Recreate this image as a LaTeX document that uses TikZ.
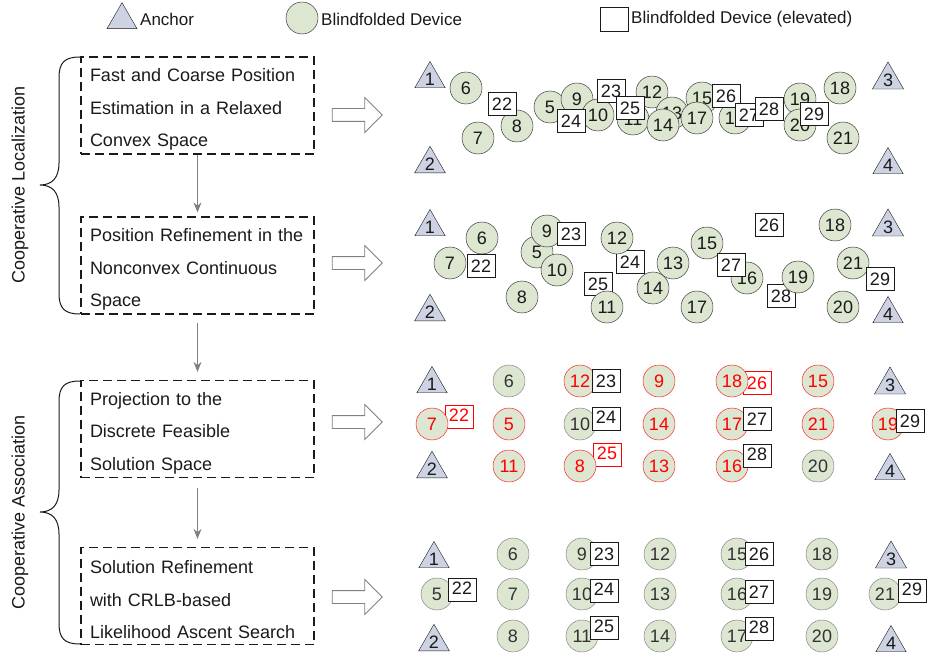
\documentclass[tikz,border=0pt]{standalone}
\usepackage{fontspec}
\setmainfont{Liberation Sans}
\usetikzlibrary{arrows.meta,shapes.geometric,shapes.arrows}
\tikzset{>=Stealth}
\definecolor{devgreen}{HTML}{DCE6D0}
\definecolor{anchorblue}{HTML}{CDD3E3}
\definecolor{inkgray}{HTML}{1A1A1A}
\tikzset{
  anchortri/.style={regular polygon,regular polygon sides=3,minimum size=34.6pt,inner sep=0pt,draw=inkgray,fill=anchorblue,text=inkgray,font=\fontsize{18}{18}\selectfont},
  device/.style={circle,minimum size=32pt,inner sep=0pt,draw=inkgray,fill=devgreen,text=inkgray,font=\fontsize{18}{18}\selectfont},
  elevated/.style={rectangle,minimum width=28pt,minimum height=23pt,inner sep=0pt,draw=inkgray,fill=white,text=inkgray,font=\fontsize{18}{18}\selectfont},
  wrong/.style={draw=red,text=red},
  kept/.style={draw=black!55,text=black!80},
  raised/.style={text height=13pt,text depth=4pt},
  legend/.style={anchor=west,inner sep=0pt,text=inkgray,font=\fontsize{17}{17}\selectfont},
  stage/.style={draw=inkgray,dash pattern=on 9pt off 5pt,line width=1.2pt,minimum width=233pt,minimum height=97pt,text width=215pt,text height=21pt,inner xsep=9pt,align=left,text=inkgray,font=\fontsize{18}{32.5}\selectfont},
  blockarrow/.style={single arrow,draw=black!50,line width=0.8pt,fill=white,minimum height=50pt,inner xsep=0pt,inner ysep=6pt,single arrow head extend=11pt},
  flow/.style={-{Stealth[length=10pt,width=8pt]},draw=black!50,line width=1.2pt}
}

\begin{document}
\begin{tikzpicture}[x=1pt,y=-1pt]
\useasboundingbox (0,0) rectangle (930,658);

% legend
\node[anchortri] (legAnchor) at (122,20) {};
\node[legend] (legAnchorText) at (140,19) {Anchor};
\node[device] (legDevice) at (302,18) {};
\node[legend] (legDeviceText) at (321,19) {Blindfolded Device};
\node[elevated,minimum height=24pt] (legElevated) at (614,19) {};
\node[legend] (legElevatedText) at (631,19) {Blindfolded Device (elevated)};

% stages
\node[stage] (coarse) at (197.5,105.5) {Fast and Coarse Position\\Estimation in a Relaxed\\Convex Space};
\node[stage] (refine) at (197.5,265.5) {Position Refinement in the\\Nonconvex Continuous\\Space};
\node[stage] (project) at (197.5,429) {Projection to the\\Discrete Feasible\\Solution Space};
\node[stage] (search) at (197.5,596) {Solution Refinement\\with CRLB-based\\Likelihood Ascent Search};
\draw[flow,shorten >=4pt] (coarse) -- (refine);
\draw[flow,shorten <=8pt,shorten >=8pt] (refine) -- (project);
\draw[flow,shorten <=10pt,shorten >=8pt] (project) -- (search);

% braces
\draw[inkgray,line width=1pt] (80,57) .. controls (64,57) and (59,63) .. (59,78) -- (59,163) .. controls (59,178) and (52,185) .. (40,185) .. controls (52,185) and (59,192) .. (59,207) -- (59,293) .. controls (59,308) and (64,314) .. (80,314);
\draw[inkgray,line width=1pt] (80,381) .. controls (64,381) and (59,387) .. (59,402) -- (59,490) .. controls (59,505) and (52,512) .. (40,512) .. controls (52,512) and (59,519) .. (59,534) -- (59,623) .. controls (59,638) and (64,644) .. (80,644);
\node[rotate=90,text=inkgray,font=\fontsize{18}{18}\selectfont] (coopLoc) at (20,185) {Cooperative Localization};
\node[rotate=90,text=inkgray,font=\fontsize{18}{18}\selectfont] (coopAssoc) at (20,512) {Cooperative Association};

% block arrows
\node[blockarrow] (toCoarse) at (354,115) {};
\node[blockarrow] (toRefine) at (354,263) {};
\node[blockarrow] (toProject) at (354,422) {};
\node[blockarrow] (toSearch) at (354,597) {};

% panel 1: relaxed convex estimate
\node[anchortri] (p1a1) at (430,79) {1};
\node[anchortri] (p1a2) at (430,164) {2};
\node[anchortri] (p1a3) at (888,80) {3};
\node[anchortri] (p1a4) at (888,165) {4};
\node[device] (p1n5) at (550,107) {5};
\node[device] (p1n6) at (466,88) {6};
\node[device] (p1n7) at (478,138) {7};
\node[device] (p1n8) at (517,126) {8};
\node[device] (p1n9) at (577,99) {9};
\node[device] (p1n10) at (598,115) {10};
\node[device] (p1n11) at (633,119) {11};
\node[device] (p1n12) at (652,92) {12};
\node[device] (p1n13) at (672,113) {13};
\node[device] (p1n14) at (663,125) {14};
\node[device] (p1n15) at (702,98) {15};
\node[device] (p1n16) at (735,118) {16};
\node[device] (p1n17) at (697,118) {17};
\node[device] (p1n18) at (840,88) {18};
\node[device] (p1n19) at (800,99) {19};
\node[device] (p1n20) at (800,125) {20};
\node[device] (p1n21) at (843,138) {21};
\node[elevated] (p1n22) at (502,104) {22};
\node[elevated] (p1n23) at (611,91) {23};
\node[elevated] (p1n24) at (571,121) {24};
\node[elevated] (p1n25) at (630,108) {25};
\node[elevated] (p1n26) at (726,96) {26};
\node[elevated] (p1n27) at (749,115) {27};
\node[elevated] (p1n28) at (769,109) {28};
\node[elevated] (p1n29) at (814,114) {29};

% panel 2: nonconvex refinement
\node[anchortri] (p2a1) at (430,227) {1};
\node[anchortri] (p2a2) at (430,312) {2};
\node[anchortri] (p2a3) at (888,227) {3};
\node[anchortri] (p2a4) at (888,314) {4};
\node[elevated] (p2n24) at (630,262) {24};
\node[elevated] (p2n25) at (598,284) {25};
\node[elevated] (p2n28) at (781,296) {28};
\node[device] (p2n5) at (537,252) {5};
\node[device] (p2n6) at (482,238) {6};
\node[device] (p2n7) at (450,263) {7};
\node[device] (p2n8) at (522,297) {8};
\node[device] (p2n9) at (547,231) {9};
\node[device] (p2n10) at (557,270) {10};
\node[device] (p2n11) at (607,307) {11};
\node[device] (p2n12) at (617,238) {12};
\node[device] (p2n13) at (673,263) {13};
\node[device] (p2n14) at (653,288) {14};
\node[device] (p2n15) at (707,243) {15};
\node[device] (p2n16) at (747,278) {16};
\node[device] (p2n17) at (697,307) {17};
\node[device] (p2n18) at (835,225) {18};
\node[device] (p2n19) at (798,277) {19};
\node[device] (p2n20) at (843,307) {20};
\node[device] (p2n21) at (853,263) {21};
\node[elevated] (p2n22) at (481,266) {22};
\node[elevated] (p2n23) at (571,234) {23};
\node[elevated] (p2n26) at (769,225) {26};
\node[elevated] (p2n27) at (731,265) {27};
\node[elevated] (p2n29) at (880,279) {29};

% panel 3: projection, red = wrong position
\node[anchortri] (p3a1) at (432,384) {1};
\node[anchortri] (p3a2) at (432,469) {2};
\node[anchortri] (p3a3) at (890,385) {3};
\node[anchortri] (p3a4) at (890,471) {4};
\node[elevated,wrong,raised] (p3n22) at (459,417) {22};
\node[elevated,wrong,raised] (p3n25) at (607,455) {25};
\node[elevated,wrong] (p3n26) at (757,383) {26};
\node[device,kept] (p3n6) at (509,381) {6};
\node[device,wrong] (p3n12) at (580,381) {12};
\node[device,wrong] (p3n9) at (659,381) {9};
\node[device,wrong] (p3n18) at (732,381) {18};
\node[device,wrong] (p3n15) at (818,381) {15};
\node[device,wrong] (p3n7) at (432,424) {7};
\node[device,wrong] (p3n5) at (509,424) {5};
\node[device,kept] (p3n10) at (580,424) {10};
\node[device,wrong] (p3n14) at (659,424) {14};
\node[device,wrong] (p3n17) at (732,424) {17};
\node[device,wrong] (p3n21) at (818,424) {21};
\node[device,wrong] (p3n19) at (888,424) {19};
\node[device,wrong] (p3n11) at (509,466) {11};
\node[device,wrong] (p3n8) at (580,466) {8};
\node[device,wrong] (p3n13) at (659,466) {13};
\node[device,wrong] (p3n16) at (732,466) {16};
\node[device,kept] (p3n20) at (818,466) {20};
\node[elevated] (p3n23) at (606,381) {23};
\node[elevated,raised] (p3n24) at (606,419) {24};
\node[elevated] (p3n27) at (757,419) {27};
\node[elevated,raised] (p3n28) at (757,456) {28};
\node[elevated] (p3n29) at (910,421) {29};

% panel 4: likelihood ascent search
\node[anchortri] (p4a1) at (434,559) {1};
\node[anchortri] (p4a2) at (434,642) {2};
\node[anchortri] (p4a3) at (891,559) {3};
\node[anchortri] (p4a4) at (891,643) {4};
\node[device,kept] (p4n6) at (513,554) {6};
\node[device,kept] (p4n9) at (582,554) {9};
\node[device,kept] (p4n12) at (660,554) {12};
\node[device,kept] (p4n15) at (737,554) {15};
\node[device,kept] (p4n18) at (822,554) {18};
\node[device,kept] (p4n5) at (437,594) {5};
\node[device,kept] (p4n7) at (513,594) {7};
\node[device,kept] (p4n10) at (582,594) {10};
\node[device,kept] (p4n13) at (660,594) {13};
\node[device,kept] (p4n16) at (737,594) {16};
\node[device,kept] (p4n19) at (822,594) {19};
\node[device,kept] (p4n21) at (885,594) {21};
\node[device,kept] (p4n8) at (513,636) {8};
\node[device,kept] (p4n11) at (582,636) {11};
\node[device,kept] (p4n14) at (660,636) {14};
\node[device,kept] (p4n17) at (737,636) {17};
\node[device,kept] (p4n20) at (822,636) {20};
\node[elevated,raised] (p4n22) at (462,590) {22};
\node[elevated] (p4n23) at (604,554) {23};
\node[elevated,raised] (p4n24) at (604,591) {24};
\node[elevated,raised] (p4n25) at (604,628) {25};
\node[elevated] (p4n26) at (759,554) {26};
\node[elevated] (p4n27) at (759,592) {27};
\node[elevated,raised] (p4n28) at (759,629) {28};
\node[elevated,raised] (p4n29) at (912,591) {29};
\end{tikzpicture}
\end{document}
